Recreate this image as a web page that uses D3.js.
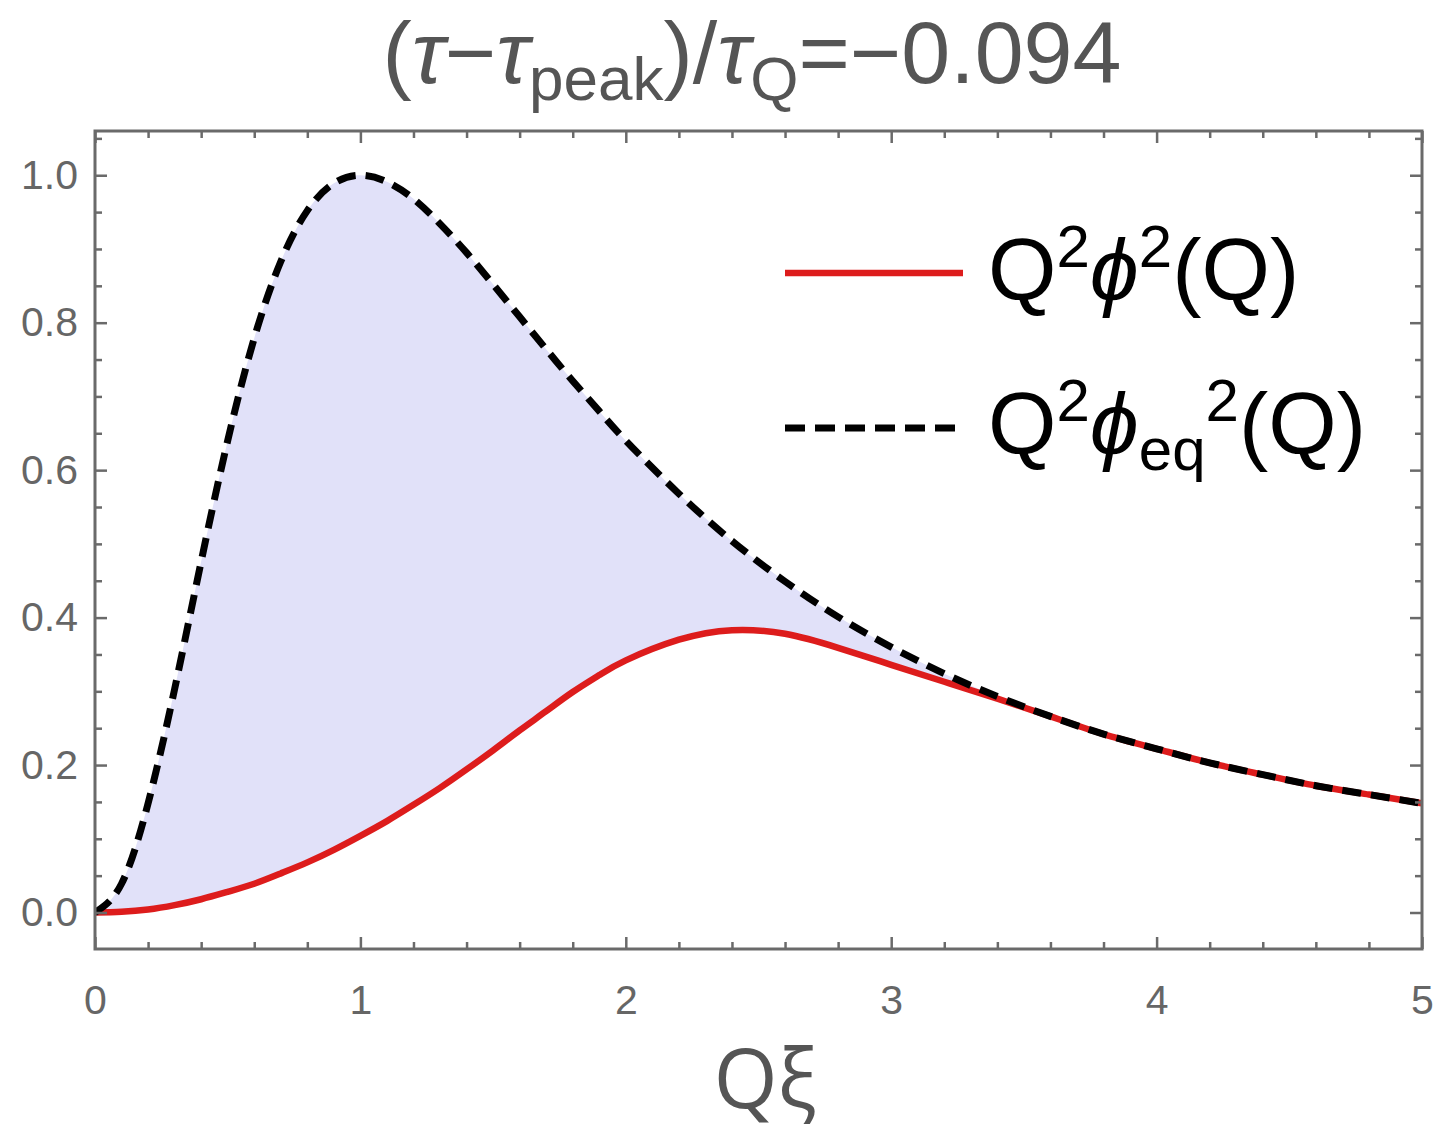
<!DOCTYPE html>
<html>
<head>
<meta charset="utf-8">
<script src="https://cdn.jsdelivr.net/npm/d3@7"></script>
<style>
  html, body { margin: 0; padding: 0; background: #fff; }
  svg { display: block; }
</style>
</head>
<body>
<svg id="chart" width="1435" height="1135"></svg>
<script>
// Momentum grid Qξ and the two spectra sampled on it
const qGrid = [0, 0.1, 0.2, 0.3, 0.4, 0.5, 0.6, 0.7, 0.8, 0.9, 1.0,
  1.1, 1.2, 1.3, 1.4, 1.5, 1.6, 1.7, 1.8, 1.9, 2.0,
  2.2, 2.4, 2.6, 2.8, 3.0, 3.2, 3.4, 3.6, 3.8, 4.0,
  4.2, 4.4, 4.6, 4.8, 5.0];

// Q²φ_eq²(Q): equilibrium spectrum (black dashed)
const eqValues = [0, 0.039, 0.148, 0.303, 0.476, 0.640, 0.779, 0.883, 0.952, 0.989, 1.000,
  0.991, 0.968, 0.934, 0.895, 0.852, 0.808, 0.764, 0.721, 0.680, 0.640,
  0.568, 0.504, 0.449, 0.401, 0.360, 0.324, 0.293, 0.266, 0.242, 0.222,
  0.203, 0.187, 0.172, 0.160, 0.148];

// Q²φ²(Q): actual spectrum (red solid)
const phiValues = [0, 0.001, 0.004, 0.010, 0.018, 0.028, 0.039, 0.053, 0.068, 0.085, 0.104,
  0.124, 0.146, 0.169, 0.194, 0.220, 0.247, 0.273, 0.299, 0.322, 0.342,
  0.370, 0.383, 0.378, 0.359, 0.336, 0.313, 0.290, 0.266, 0.242, 0.222,
  0.203, 0.187, 0.172, 0.160, 0.148];

const xMajor = [0, 1, 2, 3, 4, 5];
const xMinor = [0.2, 0.4, 0.6, 0.8, 1.2, 1.4, 1.6, 1.8, 2.2, 2.4, 2.6, 2.8,
  3.2, 3.4, 3.6, 3.8, 4.2, 4.4, 4.6, 4.8];
const yMajor = [0, 0.2, 0.4, 0.6, 0.8, 1.0];
const yMinor = [0.05, 0.1, 0.15, 0.25, 0.3, 0.35, 0.45, 0.5, 0.55, 0.65, 0.7, 0.75,
  0.85, 0.9, 0.95, 1.05];

const svg = d3.select("#chart");
const plotL = 95, plotR = 1422, plotT = 131, plotB = 949;

const x = d3.scaleLinear().domain([0, 5]).range([plotL, plotR]);
const y = d3.scaleLinear().domain([-0.0495, 1.06]).range([plotB, plotT]);

const rows = qGrid.map((q, i) => ({ q, eq: eqValues[i], phi: phiValues[i] }));

svg.append("defs").append("clipPath").attr("id", "plotClip")
  .append("rect").attr("x", plotL).attr("y", plotT)
  .attr("width", plotR - plotL).attr("height", plotB - plotT);

const plot = svg.append("g").attr("clip-path", "url(#plotClip)");
const curve = d3.curveNatural;

// shaded gap between the two spectra
plot.append("path")
  .datum(rows)
  .attr("fill", "#e1e1f9")
  .attr("d", d3.area().curve(curve)
    .x(d => x(d.q)).y0(d => y(d.phi)).y1(d => y(d.eq)));

plot.append("path")
  .datum(rows)
  .attr("fill", "none")
  .attr("stroke", "#dd1c1c")
  .attr("stroke-width", 6.5)
  .attr("d", d3.line().curve(curve).x(d => x(d.q)).y(d => y(d.phi)));

plot.append("path")
  .datum(rows)
  .attr("fill", "none")
  .attr("stroke", "#000")
  .attr("stroke-width", 7)
  .attr("stroke-dasharray", "19 10")
  .attr("d", d3.line().curve(curve).x(d => x(d.q)).y(d => y(d.eq)));

// frame with inward ticks on all four sides
const frameColor = "#6a6a6a";
function styleAxis(g) {
  g.select(".domain").remove();
  g.selectAll(".tick line").attr("stroke", frameColor).attr("stroke-width", 2.5);
  g.selectAll(".tick text").attr("fill", "#666")
    .style("font-family", "'Liberation Sans', Arial, sans-serif")
    .style("font-size", "41px");
}

svg.append("g").attr("transform", `translate(0,${plotB})`)
  .call(d3.axisBottom(x).tickValues(xMajor).tickFormat(d3.format("d"))
    .tickSizeInner(-12).tickSizeOuter(0).tickPadding(36))
  .call(styleAxis);
svg.append("g").attr("transform", `translate(0,${plotB})`)
  .call(d3.axisBottom(x).tickValues(xMinor).tickFormat("").tickSizeInner(-7).tickSizeOuter(0))
  .call(styleAxis);
svg.append("g").attr("transform", `translate(0,${plotT})`)
  .call(d3.axisTop(x).tickValues(xMajor).tickFormat("").tickSizeInner(-12).tickSizeOuter(0))
  .call(styleAxis);
svg.append("g").attr("transform", `translate(0,${plotT})`)
  .call(d3.axisTop(x).tickValues(xMinor).tickFormat("").tickSizeInner(-7).tickSizeOuter(0))
  .call(styleAxis);

svg.append("g").attr("transform", `translate(${plotL},0)`)
  .call(d3.axisLeft(y).tickValues(yMajor).tickFormat(d3.format(".1f"))
    .tickSizeInner(-12).tickSizeOuter(0).tickPadding(17))
  .call(styleAxis);
svg.append("g").attr("transform", `translate(${plotL},0)`)
  .call(d3.axisLeft(y).tickValues(yMinor).tickFormat("").tickSizeInner(-7).tickSizeOuter(0))
  .call(styleAxis);
svg.append("g").attr("transform", `translate(${plotR},0)`)
  .call(d3.axisRight(y).tickValues(yMajor).tickFormat("").tickSizeInner(-12).tickSizeOuter(0))
  .call(styleAxis);
svg.append("g").attr("transform", `translate(${plotR},0)`)
  .call(d3.axisRight(y).tickValues(yMinor).tickFormat("").tickSizeInner(-7).tickSizeOuter(0))
  .call(styleAxis);

svg.append("rect")
  .attr("x", plotL).attr("y", plotT)
  .attr("width", plotR - plotL).attr("height", plotB - plotT)
  .attr("fill", "none").attr("stroke", frameColor).attr("stroke-width", 3);

const font = "'Liberation Sans', Arial, sans-serif";

// title
const title = svg.append("text")
  .attr("x", 752).attr("y", 83)
  .attr("text-anchor", "middle")
  .attr("fill", "#555")
  .style("font-family", font)
  .style("font-size", "88px");
title.append("tspan").text("(");
title.append("tspan").style("font-style", "italic").text("τ");
title.append("tspan").text("−");
title.append("tspan").style("font-style", "italic").text("τ");
title.append("tspan").attr("dy", 17).style("font-size", "62px").text("peak");
title.append("tspan").attr("dy", -17).text(")/");
title.append("tspan").style("font-style", "italic").text("τ");
title.append("tspan").attr("dy", 17).style("font-size", "62px").text("Q");
title.append("tspan").attr("dy", -17).text("=−0.094");

// x-axis label
svg.append("text")
  .attr("x", 765).attr("y", 1108)
  .attr("text-anchor", "middle")
  .attr("fill", "#555")
  .style("font-family", "'Open Sans', sans-serif")
  .style("font-size", "82px")
  .text("Qξ");

// legend
const legend = svg.append("g");
legend.append("line")
  .attr("x1", 785).attr("x2", 963).attr("y1", 273).attr("y2", 273)
  .attr("stroke", "#dd1c1c").attr("stroke-width", 6.5);
legend.append("line")
  .attr("x1", 785).attr("x2", 957).attr("y1", 428).attr("y2", 428)
  .attr("stroke", "#000").attr("stroke-width", 7).attr("stroke-dasharray", "20 10");

const l1 = legend.append("text")
  .attr("x", 988).attr("y", 300)
  .attr("fill", "#000")
  .style("font-family", font)
  .style("font-size", "88px");
l1.append("tspan").text("Q");
l1.append("tspan").attr("dy", -33).style("font-size", "60px").text("2");
l1.append("tspan").attr("dy", 33).style("font-style", "italic").text("ϕ");
l1.append("tspan").attr("dy", -33).style("font-size", "60px").text("2");
l1.append("tspan").attr("dy", 33).text("(Q)");

const l2 = legend.append("text")
  .attr("x", 988).attr("y", 454)
  .attr("fill", "#000")
  .style("font-family", font)
  .style("font-size", "88px");
l2.append("tspan").text("Q");
l2.append("tspan").attr("dy", -33).style("font-size", "60px").text("2");
l2.append("tspan").attr("dy", 33).style("font-style", "italic").text("ϕ");
l2.append("tspan").attr("dy", 16).style("font-size", "60px").text("eq");
l2.append("tspan").attr("dy", -49).style("font-size", "60px").text("2");
l2.append("tspan").attr("dy", 33).text("(Q)");
</script>
</body>
</html>
